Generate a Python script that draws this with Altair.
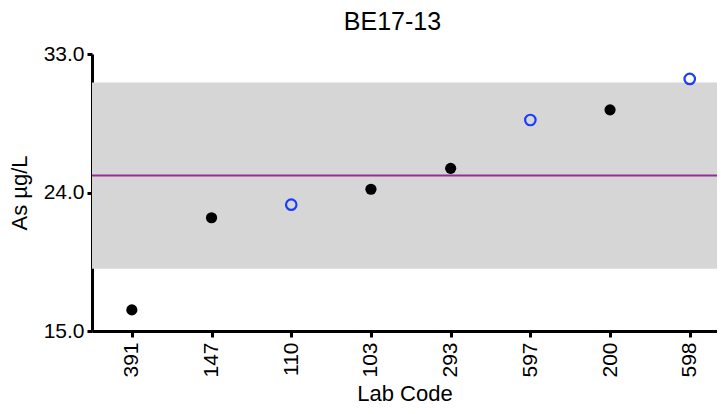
import json
import altair as alt
import pandas as pd

labs = ["391", "147", "110", "103", "293", "597", "200", "598"]
values = [16.37, 22.36, 23.21, 24.21, 25.57, 28.71, 29.37, 31.38]
flagged = [False, False, True, False, False, True, False, True]

assigned = 25.1
band_low = 19.05
band_high = 31.15

df = pd.DataFrame({"lab": labs, "value": values, "flag": flagged,
                   "idx": list(range(len(labs)))})
band_df = pd.DataFrame({"lo": [band_low], "hi": [band_high]})
line_df = pd.DataFrame({"v": [assigned]})

FONT = "Liberation Sans"

# plot area is 625 px wide, one lab slot is ~79.7 px: the last slot runs past the page edge
xs = alt.Scale(domain=[-0.5, 7.342], nice=False, zero=False)
ys = alt.Scale(domain=[15, 33], nice=False, zero=False)

y_axis = alt.Axis(values=[15, 24, 33], format=".1f", grid=False)
x_axis = alt.Axis(values=list(range(len(labs))), labelAngle=-90,
                  labelBaseline="middle", labelAlign="right",
                  labelExpr=json.dumps(labs) + "[datum.value]", grid=False)

band = alt.Chart(band_df).mark_rect(color="#d6d6d6").encode(
    y=alt.Y("lo:Q", scale=ys, title="As µg/L", axis=y_axis),
    y2="hi:Q",
)
line = alt.Chart(line_df).mark_rule(color="#952d98", strokeWidth=2).encode(
    y=alt.Y("v:Q", scale=ys, title="As µg/L", axis=y_axis)
)

x_enc = alt.X("idx:Q", scale=xs, title="Lab Code", axis=x_axis)
y_enc = alt.Y("value:Q", scale=ys, title="As µg/L", axis=y_axis)

filled = alt.Chart(df).transform_filter("!datum.flag").mark_point(
    filled=True, color="black", size=125, shape="circle", opacity=1
).encode(x=x_enc, y=y_enc)

openpts = alt.Chart(df).transform_filter("datum.flag").mark_point(
    filled=False, color="#1a3cff", size=110, shape="circle", strokeWidth=2.2, opacity=1
).encode(x=x_enc, y=y_enc)

chart = alt.layer(band, line, filled, openpts).properties(
    width=625, height=277,
    title=alt.TitleParams("BE17-13", fontSize=25, fontWeight="normal", font=FONT,
                          color="black", offset=8, dx=-12),
    padding={"left": 84, "top": 46, "right": 0, "bottom": 75},
    autosize=alt.AutoSizeParams(type="none"),
).configure(font=FONT).configure_view(stroke=None).configure_axis(
    labelFont=FONT, titleFont=FONT, domainWidth=3, domainColor="black",
    tickWidth=3, tickColor="black", labelFontSize=21,
    labelColor="black", titleFontSize=22, titleFontWeight="normal",
    titleColor="black", grid=False
).configure_axisX(labelPadding=5, titlePadding=6, tickSize=6).configure_axisY(
    labelPadding=3, titlePadding=12, tickSize=5
)

chart.save("out.html", embed_options={"renderer": "svg", "actions": False})
